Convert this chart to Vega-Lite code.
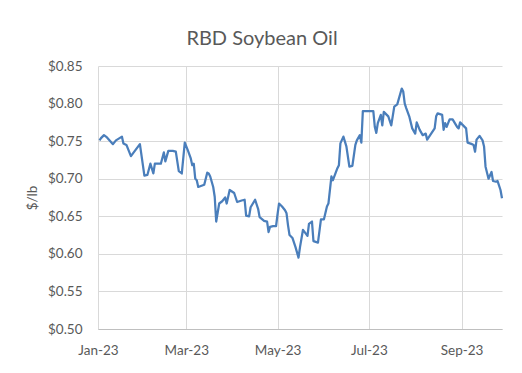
{
  "$schema": "https://vega.github.io/schema/vega-lite/v6.json",
  "autosize": {"type": "none"},
  "padding": {"left": 98, "top": 66, "right": 20, "bottom": 44},
  "width": 404,
  "height": 263,
  "background": "white",
  "title": {
    "text": "RBD Soybean Oil",
    "font": "Lato",
    "fontSize": 20,
    "fontWeight": "normal",
    "color": "#595959",
    "anchor": "middle",
    "dx": -38,
    "offset": 10
  },
  "data": {
    "values": [
      {"date": "2023-01-02", "price": 0.751},
      {"date": "2023-01-03", "price": 0.754},
      {"date": "2023-01-05", "price": 0.758},
      {"date": "2023-01-07", "price": 0.755},
      {"date": "2023-01-11", "price": 0.746},
      {"date": "2023-01-13", "price": 0.751},
      {"date": "2023-01-17", "price": 0.756},
      {"date": "2023-01-18", "price": 0.747},
      {"date": "2023-01-20", "price": 0.745},
      {"date": "2023-01-23", "price": 0.730},
      {"date": "2023-01-26", "price": 0.738},
      {"date": "2023-01-29", "price": 0.746},
      {"date": "2023-02-01", "price": 0.704},
      {"date": "2023-02-03", "price": 0.705},
      {"date": "2023-02-05", "price": 0.720},
      {"date": "2023-02-07", "price": 0.707},
      {"date": "2023-02-08", "price": 0.720},
      {"date": "2023-02-12", "price": 0.720},
      {"date": "2023-02-14", "price": 0.735},
      {"date": "2023-02-15", "price": 0.723},
      {"date": "2023-02-17", "price": 0.737},
      {"date": "2023-02-20", "price": 0.737},
      {"date": "2023-02-22", "price": 0.736},
      {"date": "2023-02-24", "price": 0.710},
      {"date": "2023-02-26", "price": 0.707},
      {"date": "2023-02-28", "price": 0.748},
      {"date": "2023-03-02", "price": 0.738},
      {"date": "2023-03-04", "price": 0.727},
      {"date": "2023-03-05", "price": 0.718},
      {"date": "2023-03-06", "price": 0.720},
      {"date": "2023-03-07", "price": 0.700},
      {"date": "2023-03-08", "price": 0.698},
      {"date": "2023-03-09", "price": 0.689},
      {"date": "2023-03-13", "price": 0.692},
      {"date": "2023-03-15", "price": 0.708},
      {"date": "2023-03-16", "price": 0.707},
      {"date": "2023-03-17", "price": 0.703},
      {"date": "2023-03-19", "price": 0.689},
      {"date": "2023-03-20", "price": 0.676},
      {"date": "2023-03-21", "price": 0.643},
      {"date": "2023-03-23", "price": 0.667},
      {"date": "2023-03-25", "price": 0.670},
      {"date": "2023-03-27", "price": 0.675},
      {"date": "2023-03-28", "price": 0.667},
      {"date": "2023-03-30", "price": 0.685},
      {"date": "2023-04-02", "price": 0.681},
      {"date": "2023-04-04", "price": 0.669},
      {"date": "2023-04-07", "price": 0.671},
      {"date": "2023-04-09", "price": 0.672},
      {"date": "2023-04-10", "price": 0.651},
      {"date": "2023-04-12", "price": 0.650},
      {"date": "2023-04-13", "price": 0.662},
      {"date": "2023-04-16", "price": 0.672},
      {"date": "2023-04-18", "price": 0.660},
      {"date": "2023-04-19", "price": 0.649},
      {"date": "2023-04-22", "price": 0.644},
      {"date": "2023-04-24", "price": 0.643},
      {"date": "2023-04-25", "price": 0.629},
      {"date": "2023-04-26", "price": 0.636},
      {"date": "2023-04-28", "price": 0.637},
      {"date": "2023-04-30", "price": 0.637},
      {"date": "2023-05-01", "price": 0.653},
      {"date": "2023-05-02", "price": 0.667},
      {"date": "2023-05-04", "price": 0.663},
      {"date": "2023-05-06", "price": 0.658},
      {"date": "2023-05-07", "price": 0.654},
      {"date": "2023-05-08", "price": 0.638},
      {"date": "2023-05-09", "price": 0.625},
      {"date": "2023-05-11", "price": 0.621},
      {"date": "2023-05-13", "price": 0.609},
      {"date": "2023-05-15", "price": 0.595},
      {"date": "2023-05-16", "price": 0.609},
      {"date": "2023-05-18", "price": 0.632},
      {"date": "2023-05-21", "price": 0.624},
      {"date": "2023-05-22", "price": 0.640},
      {"date": "2023-05-24", "price": 0.643},
      {"date": "2023-05-25", "price": 0.617},
      {"date": "2023-05-28", "price": 0.615},
      {"date": "2023-05-30", "price": 0.646},
      {"date": "2023-06-01", "price": 0.646},
      {"date": "2023-06-03", "price": 0.663},
      {"date": "2023-06-04", "price": 0.667},
      {"date": "2023-06-06", "price": 0.703},
      {"date": "2023-06-07", "price": 0.698},
      {"date": "2023-06-10", "price": 0.714},
      {"date": "2023-06-11", "price": 0.718},
      {"date": "2023-06-12", "price": 0.747},
      {"date": "2023-06-14", "price": 0.756},
      {"date": "2023-06-16", "price": 0.743},
      {"date": "2023-06-18", "price": 0.716},
      {"date": "2023-06-20", "price": 0.717},
      {"date": "2023-06-22", "price": 0.745},
      {"date": "2023-06-23", "price": 0.751},
      {"date": "2023-06-25", "price": 0.758},
      {"date": "2023-06-26", "price": 0.748},
      {"date": "2023-06-27", "price": 0.790},
      {"date": "2023-06-30", "price": 0.790},
      {"date": "2023-07-04", "price": 0.790},
      {"date": "2023-07-05", "price": 0.769},
      {"date": "2023-07-06", "price": 0.761},
      {"date": "2023-07-07", "price": 0.774},
      {"date": "2023-07-09", "price": 0.785},
      {"date": "2023-07-10", "price": 0.771},
      {"date": "2023-07-11", "price": 0.789},
      {"date": "2023-07-14", "price": 0.783},
      {"date": "2023-07-16", "price": 0.771},
      {"date": "2023-07-18", "price": 0.796},
      {"date": "2023-07-20", "price": 0.799},
      {"date": "2023-07-23", "price": 0.820},
      {"date": "2023-07-24", "price": 0.816},
      {"date": "2023-07-25", "price": 0.800},
      {"date": "2023-07-26", "price": 0.794},
      {"date": "2023-07-28", "price": 0.783},
      {"date": "2023-07-30", "price": 0.767},
      {"date": "2023-08-01", "price": 0.760},
      {"date": "2023-08-02", "price": 0.775},
      {"date": "2023-08-04", "price": 0.765},
      {"date": "2023-08-06", "price": 0.758},
      {"date": "2023-08-08", "price": 0.760},
      {"date": "2023-08-09", "price": 0.752},
      {"date": "2023-08-11", "price": 0.758},
      {"date": "2023-08-14", "price": 0.767},
      {"date": "2023-08-15", "price": 0.783},
      {"date": "2023-08-16", "price": 0.787},
      {"date": "2023-08-19", "price": 0.785},
      {"date": "2023-08-20", "price": 0.765},
      {"date": "2023-08-21", "price": 0.774},
      {"date": "2023-08-22", "price": 0.769},
      {"date": "2023-08-24", "price": 0.779},
      {"date": "2023-08-26", "price": 0.779},
      {"date": "2023-08-29", "price": 0.769},
      {"date": "2023-08-30", "price": 0.767},
      {"date": "2023-08-31", "price": 0.775},
      {"date": "2023-09-02", "price": 0.771},
      {"date": "2023-09-04", "price": 0.767},
      {"date": "2023-09-05", "price": 0.748},
      {"date": "2023-09-08", "price": 0.746},
      {"date": "2023-09-09", "price": 0.745},
      {"date": "2023-09-10", "price": 0.736},
      {"date": "2023-09-11", "price": 0.752},
      {"date": "2023-09-13", "price": 0.757},
      {"date": "2023-09-15", "price": 0.751},
      {"date": "2023-09-16", "price": 0.743},
      {"date": "2023-09-17", "price": 0.716},
      {"date": "2023-09-19", "price": 0.700},
      {"date": "2023-09-21", "price": 0.709},
      {"date": "2023-09-22", "price": 0.697},
      {"date": "2023-09-24", "price": 0.696},
      {"date": "2023-09-25", "price": 0.697},
      {"date": "2023-09-27", "price": 0.685},
      {"date": "2023-09-28", "price": 0.674}
    ]
  },
  "mark": {"type": "line", "color": "#4a7ebb", "strokeWidth": 2.25, "strokeJoin": "round"},
  "encoding": {
    "x": {
      "field": "date",
      "type": "temporal",
      "scale": {
        "type": "utc",
        "domain": [
          {"year": 2023, "month": 1, "date": 1, "utc": true},
          {"year": 2023, "month": 9, "date": 28, "utc": true}
        ],
        "nice": false
      },
      "axis": {
        "title": null,
        "values": [
          {"year": 2023, "month": 1, "date": 1, "utc": true},
          {"year": 2023, "month": 3, "date": 1, "utc": true},
          {"year": 2023, "month": 5, "date": 1, "utc": true},
          {"year": 2023, "month": 7, "date": 1, "utc": true},
          {"year": 2023, "month": 9, "date": 1, "utc": true}
        ],
        "labelExpr": "utcFormat(datum.value, '%b-%y')",
        "ticks": false,
        "labelPadding": 14,
        "labelFont": "Lato",
        "labelFontSize": 13.5,
        "labelColor": "#595959",
        "labelFlush": false,
        "grid": true,
        "gridColor": "#d9d9d9",
        "domain": true,
        "domainColor": "#bfbfbf"
      }
    },
    "y": {
      "field": "price",
      "type": "quantitative",
      "scale": {"domain": [0.5, 0.85], "nice": false, "zero": false},
      "axis": {
        "title": "$/lb",
        "titleFont": "Lato",
        "titleFontSize": 13.5,
        "titleFontWeight": "normal",
        "titleColor": "#595959",
        "titlePadding": 8,
        "values": [0.5, 0.55, 0.6, 0.65, 0.7, 0.75, 0.8, 0.85],
        "format": "$.2f",
        "ticks": false,
        "domain": false,
        "labelPadding": 16,
        "labelFont": "Lato",
        "labelFontSize": 13.5,
        "labelColor": "#595959",
        "grid": true,
        "gridColor": "#d9d9d9"
      }
    }
  },
  "config": {"view": {"stroke": null}}
}
